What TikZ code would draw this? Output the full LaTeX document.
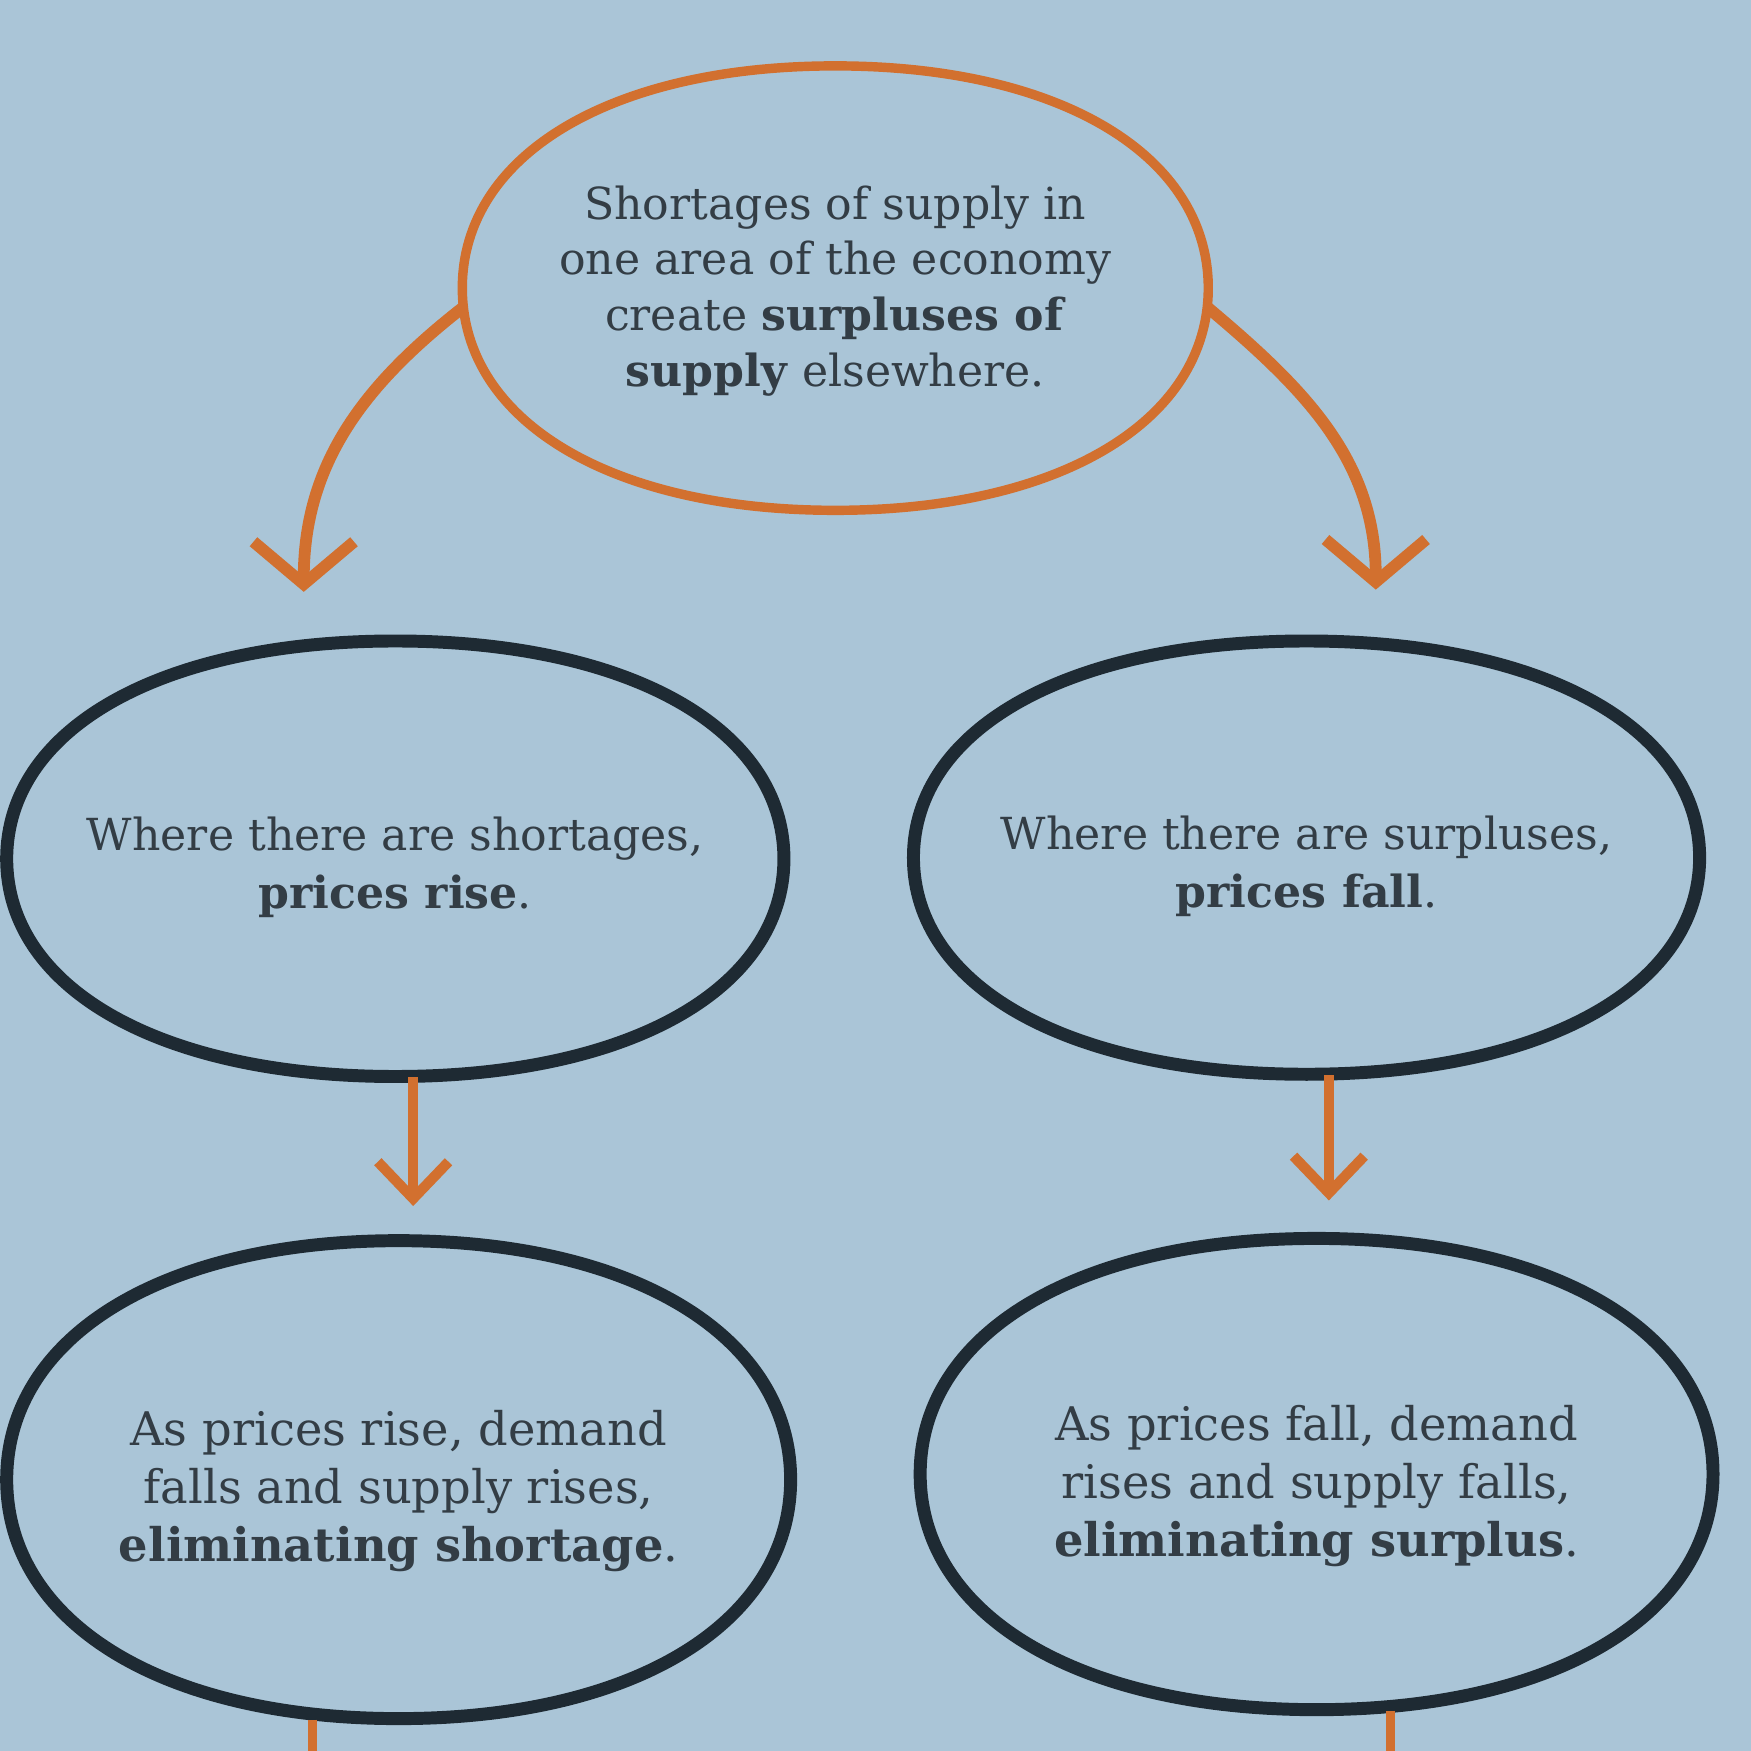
\documentclass[tikz,border=0pt]{standalone}
\usepackage{fontspec}
\setmainfont{DejaVu Serif}
\usetikzlibrary{shapes.geometric,arrows.meta}

\definecolor{paper}{HTML}{AAC5D7}
\definecolor{rust}{HTML}{D2702F}
\definecolor{ink}{HTML}{1E2A33}
\definecolor{print}{HTML}{333D45}

%% slightly boxy ellipse round a node: [style]{node}{rx}{ry}
\newcommand\bulge{0.6}
\newcommand\blob[4][bubble]{%
  \draw[#1] (#2.center) ++(0,#4)
    .. controls +(\bulge*#3,0) and +(0,\bulge*#4) .. ++(#3,-#4)
    .. controls +(0,-\bulge*#4) and +(\bulge*#3,0) .. ++(-#3,-#4)
    .. controls +(-\bulge*#3,0) and +(0,-\bulge*#4) .. ++(-#3,#4)
    .. controls +(0,\bulge*#4) and +(-\bulge*#3,0) .. ++(#3,#4) -- cycle;}

\begin{document}
\begin{tikzpicture}[x=0.01cm,y=0.01cm,
  spot/.style={ellipse, draw=none, inner sep=0pt},
  bubble/.style={draw=ink, line width=3.3pt, line join=round},
  hotbubble/.style={draw=rust, line width=2.4pt, line join=round},
  words/.style={align=center, text=print, inner sep=0pt,
    font=\fontsize{11.25}{14.8}\selectfont},
  bigflow/.style={draw=rust, line width=3pt,
    -{Straight Barb[length=10.8pt,width=25.6pt]}},
  flow/.style={draw=rust, line width=2.6pt,
    -{Straight Barb[length=9.4pt,width=18pt]}},
  tail/.style={draw=rust, line width=2.2pt}]

  %% page
  \fill[paper] (0,0) rectangle (1568,1568);
  \useasboundingbox (0,0) rectangle (1568,1568);

  %% bubble places
  \node[spot, minimum width=6.68cm, minimum height=3.98cm] (top) at (748,1310) {};
  \node[spot, minimum width=6.96cm, minimum height=3.90cm] (riseL) at (354,799) {};
  \node[spot, minimum width=7.04cm, minimum height=3.88cm] (fallR) at (1170,800) {};
  \node[spot, minimum width=7.02cm, minimum height=4.28cm] (fixL) at (357,243) {};
  \node[spot, minimum width=7.10cm, minimum height=4.22cm] (fixR) at (1179,248) {};

  %% texts
  \node[words, font=\fontsize{11.25}{14.2}\selectfont, yshift=-0.025cm]
  (topText) at (top)
  {Shortages of supply in\\ one area of the economy\\
   create \textbf{surpluses of}\\ \textbf{supply} elsewhere.};
  \node[words, yshift=-0.08cm] (riseLText) at (riseL)
  {Where there are shortages,\\ \textbf{prices rise}.};
  \node[words, yshift=-0.08cm] (fallRText) at (fallR)
  {Where there are surpluses,\\ \textbf{prices fall}.};
  \node[words, font=\fontsize{11.8}{14.8}\selectfont, yshift=-0.105cm]
  (fixLText) at (fixL)
  {As prices rise, demand\\ falls and supply rises,\\ \textbf{eliminating shortage}.};
  \node[words, font=\fontsize{11.8}{14.8}\selectfont, yshift=-0.105cm]
  (fixRText) at (fixR)
  {As prices fall, demand\\ rises and supply falls,\\ \textbf{eliminating surplus}.};

  %% outlines
  \blob[hotbubble]{top}{334}{199}
  \blob{riseL}{348}{195}
  \blob{fallR}{352}{194}
  \blob{fixL}{351}{214}
  \blob{fixR}{355}{211}

  %% free ends
  \coordinate (tipL) at (272,1038);
  \coordinate (tipR) at (1232,1040);
  \coordinate (downL) at (370,488);
  \coordinate (downR) at (1190,493);
  \coordinate (outL) at (280,-30);
  \coordinate (outR) at (1245,-30);

  %% top to middle
  \draw[bigflow] (top.183) to[out=218,in=90] (tipL);
  \draw[bigflow] (top.-3) to[out=-40,in=90] (tipR);

  %% middle to bottom
  \draw[flow] (riseL.south -| downL) -- (downL);
  \draw[flow] (fallR.south -| downR) -- (downR);

  %% off the page
  \draw[tail] (fixL.south -| outL) -- (outL);
  \draw[tail] (fixR.south -| outR) -- (outR);

\end{tikzpicture}
\end{document}
